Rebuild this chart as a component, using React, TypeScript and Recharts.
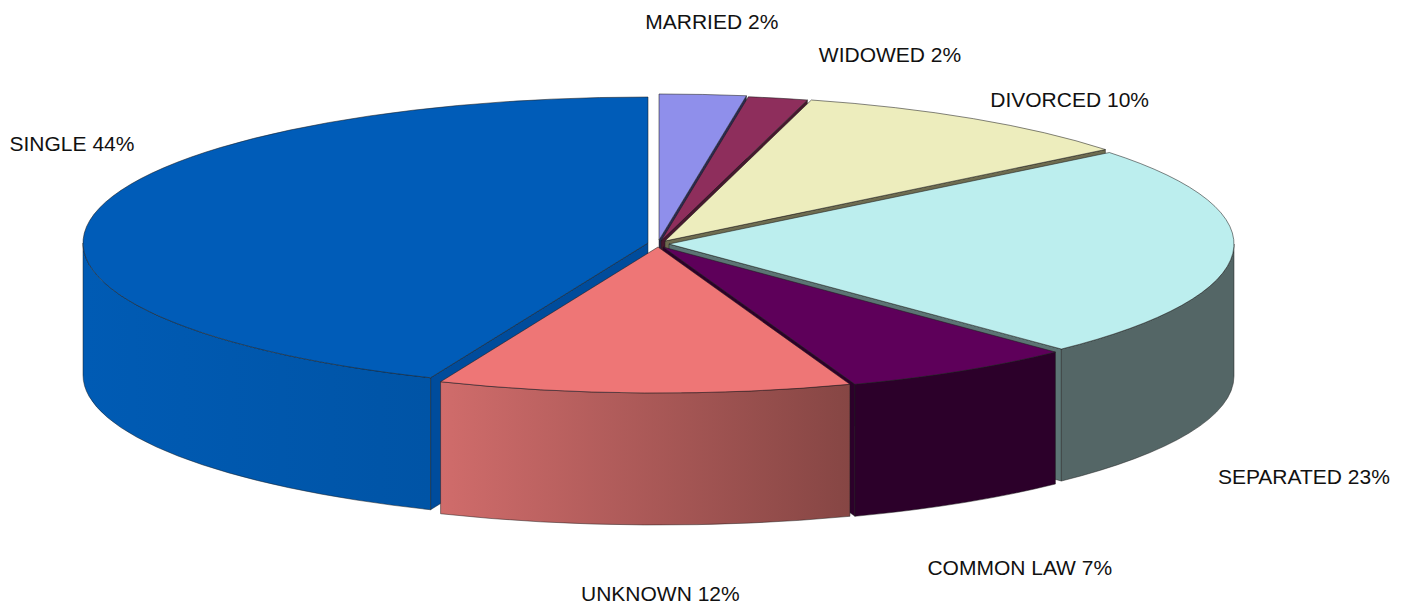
import { Pie, PieChart } from "recharts";

const categories = ["MARRIED", "WIDOWED", "DIVORCED", "SEPARATED", "COMMON LAW", "UNKNOWN", "SINGLE"];
const values = [2.47, 1.7, 10.05, 23.55, 6.7, 11.8, 43.7];
const percentLabels = [2, 2, 10, 23, 7, 12, 44];

const topColors = ["#8F8FEB", "#8E2E5C", "#EDEDBD", "#BCEEEE", "#5E005A", "#EE7676", "#005CB8"];
const wallLeft = ["#484876", "#47172E", "#77775F", "#546666", "#2C002A", "#D06C6B", "#005BB4"];
const wallRight = ["#484876", "#47172E", "#77775F", "#546666", "#2C002A", "#864644", "#0054A6"];
const cutColors = ["#2A2A50", "#47172E", "#6E6C50", "#5C7474", "#2C002A", "#864644", "#004C9C"];

// how far each slice is pulled out of the pie, and where its label sits relative to the rim
const explode = [[0, -5], [2, -4], [6, -4], [10, -1], [4, 2], [-1, 2], [-11, -2]];
const labelNudge = [[9, -70], [114, -40], [102, -16], [81, 230], [62, 206], [15, 210], [-33, -65]];

const WIDTH = 1414;
const HEIGHT = 610;
const CX = 659;
const CY = 245;
const RX = 565;
const TILT = 146 / 565;
const DEPTH = 132;
const EDGE = "#1c1c1c";

const tableData = categories.map((name, i) => ({ name, value: values[i] }));

function Slice3D(props: any) {
  const i = categories.indexOf(props.name);
  const cx = props.cx + explode[i][0];
  const cy = props.cy + explode[i][1];
  const rx = props.outerRadius;
  const ry = rx * TILT;
  // clockwise from 12 o'clock
  const t0 = 90 - props.startAngle;
  const t1 = 90 - props.endAngle;
  const pt = (t: number, drop = 0) => {
    const r = (t * Math.PI) / 180;
    return [cx + rx * Math.sin(r), cy - ry * Math.cos(r) + drop];
  };
  const [sx, sy] = pt(t0);
  const [ex, ey] = pt(t1);
  const top = `M${cx},${cy} L${sx},${sy} A${rx},${ry} 0 ${t1 - t0 > 180 ? 1 : 0} 1 ${ex},${ey} Z`;

  const cuts: string[] = [];
  if (t1 < 180) cuts.push(`M${cx},${cy} L${ex},${ey} L${ex},${ey + DEPTH} L${cx},${cy + DEPTH} Z`);
  if (t0 > 180) cuts.push(`M${cx},${cy} L${sx},${sy} L${sx},${sy + DEPTH} L${cx},${cy + DEPTH} Z`);

  // outer wall only where the rim faces the viewer
  const w0 = Math.max(t0, 90);
  const w1 = Math.min(t1, 270);
  let wall = "";
  if (w1 > w0) {
    const [ax, ay] = pt(w0);
    const [bx, by] = pt(w1);
    const large = w1 - w0 > 180 ? 1 : 0;
    wall = `M${ax},${ay} A${rx},${ry} 0 ${large} 1 ${bx},${by} L${bx},${by + DEPTH} A${rx},${ry} 0 ${large} 0 ${ax},${ay + DEPTH} Z`;
  }
  const gradId = `wall-${i}`;

  return (
    <g>
      <defs>
        <linearGradient id={gradId} x1="0" y1="0" x2="1" y2="0">
          <stop offset="0%" stopColor={wallLeft[i]} />
          <stop offset="100%" stopColor={wallRight[i]} />
        </linearGradient>
      </defs>
      {cuts.map((d) => (
        <path key={d} d={d} fill={cutColors[i]} stroke={EDGE} strokeOpacity={0.6} strokeWidth={0.8} />
      ))}
      {wall && <path d={wall} fill={`url(#${gradId})`} stroke={EDGE} strokeOpacity={0.6} strokeWidth={0.8} />}
      <path d={top} fill={topColors[i]} stroke={EDGE} strokeOpacity={0.6} strokeWidth={0.9} strokeLinejoin="round" />
    </g>
  );
}

const backSlices = (props: any) => (props.name === "UNKNOWN" ? <g /> : <Slice3D {...props} />);
const frontSlice = (props: any) => (props.name === "UNKNOWN" ? <Slice3D {...props} /> : <g />);

function sliceLabel(props: any) {
  const i = categories.indexOf(props.name);
  const t = ((90 - props.midAngle) * Math.PI) / 180;
  const x = props.cx + props.outerRadius * Math.sin(t) + labelNudge[i][0];
  const y = props.cy - props.outerRadius * TILT * Math.cos(t) + labelNudge[i][1];
  return (
    <text
      key={props.name}
      x={x}
      y={y}
      textAnchor="middle"
      fill="#111111"
      fontSize={21}
      fontFamily="'Liberation Sans', Arial, sans-serif"
    >
      {`${props.name} ${percentLabels[i]}%`}
    </text>
  );
}

export default function App() {
  return (
    <div style={{ position: "absolute", left: 0, top: 0, width: WIDTH, height: HEIGHT, background: "#ffffff" }}>
      <PieChart width={WIDTH} height={HEIGHT} margin={{ top: 0, right: 0, bottom: 0, left: 0 }}>
        <Pie
          data={tableData}
          dataKey="value"
          nameKey="name"
          cx={CX}
          cy={CY}
          outerRadius={RX}
          startAngle={90}
          endAngle={-270}
          stroke="none"
          shape={backSlices}
          isAnimationActive={false}
        />
        <Pie
          data={tableData}
          dataKey="value"
          nameKey="name"
          cx={CX}
          cy={CY}
          outerRadius={RX}
          startAngle={90}
          endAngle={-270}
          stroke="none"
          shape={frontSlice}
          label={sliceLabel}
          labelLine={false}
          isAnimationActive={false}
        />
      </PieChart>
    </div>
  );
}
